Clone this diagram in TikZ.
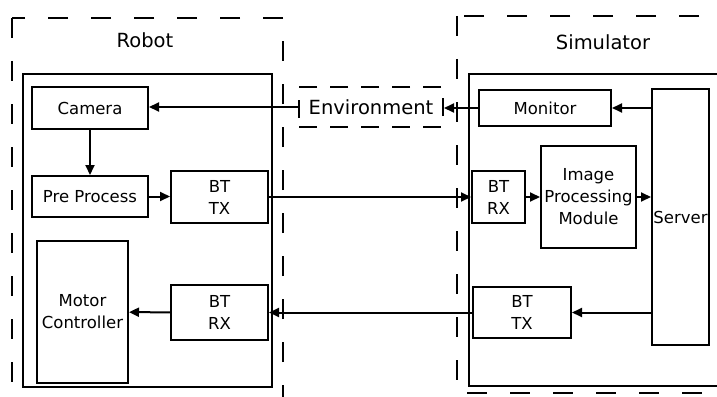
\documentclass[tikz,border=0pt]{standalone}
\usepackage{fontspec}
\setmainfont{DejaVu Sans}
\usetikzlibrary{arrows.meta}

\begin{document}
\begin{tikzpicture}[x=1pt, y=-1pt, line width=2pt,
        blk/.style={draw, align=center, inner sep=1pt, font=\fontsize{16.5}{22}\selectfont},
        arr/.style={-{Triangle[length=10pt,width=9pt]}},
        area/.style={draw, dash pattern=on 20pt off 23pt}]
        \clip (0,0) rectangle (717,396);

        % outer areas
        \draw[area] (12,18) rectangle (283,420);
        \draw[area] (457,16) rectangle (760,393);
        \draw (23,74) rectangle (272,387);
        \draw (469,74) rectangle (722,386);
        \node[font=\fontsize{19.5}{22}\selectfont] (robot) at (145,40) {Robot};
        \node[font=\fontsize{19.5}{22}\selectfont] (sim) at (603,42) {Simulator};

        % robot side
        \node[blk, minimum width=116pt, minimum height=42pt] (camera) at (90,108) {Camera};
        \node[blk, minimum width=116pt, minimum height=41pt] (preproc) at (90,196.5) {Pre Process};
        \node[blk, minimum width=97pt, minimum height=52pt] (bttxR) at (219.5,197) {BT\\TX};
        \node[blk, minimum width=97pt, minimum height=55pt] (btrxR) at (219.5,312.5) {BT\\RX};
        \node[blk, minimum width=91pt, minimum height=142pt] (motor) at (82.5,312) {Motor\\Controller};

        % environment
        \node[draw, dash pattern=on 18pt off 13pt, minimum width=144pt, minimum height=40pt,
            font=\fontsize{19.5}{22}\selectfont] (env) at (371,107) {Environment};

        % simulator side
        \node[blk, minimum width=132pt, minimum height=36pt] (monitor) at (545,108) {Monitor};
        \node[blk, minimum width=57pt, minimum height=256pt] (server) at (680.5,217) {Server};
        \node[blk, minimum width=53pt, minimum height=52pt] (btrxS) at (498.5,197) {BT\\RX};
        \node[blk, minimum width=95pt, minimum height=102pt, inner sep=0pt] (ipm) at (588.5,197) {Image\\Processing\\Module};
        \node[blk, minimum width=98pt, minimum height=51pt] (bttxS) at (522,312.5) {BT\\TX};

        % connections
        \draw[arr] (env.west) -- (env.west -| camera.east);
        \draw[arr] (camera) -- (preproc);
        \draw[arr] (preproc.east) -- (preproc.east -| bttxR.west);
        \draw[arr] (bttxR) -- (btrxS);
        \draw[arr] (btrxS) -- (ipm);
        \draw[arr] (ipm.east) -- (ipm.east -| server.west);
        \draw[arr] (monitor.east -| server.west) -- (monitor.east);
        \draw[arr] (monitor.west) -- (monitor.west -| env.east);
        \draw[arr] (bttxS.east -| server.west) -- (bttxS.east);
        \draw[arr] (bttxS) -- (btrxR);
        \draw[arr] (btrxR) -- (motor);
\end{tikzpicture}
\end{document}
